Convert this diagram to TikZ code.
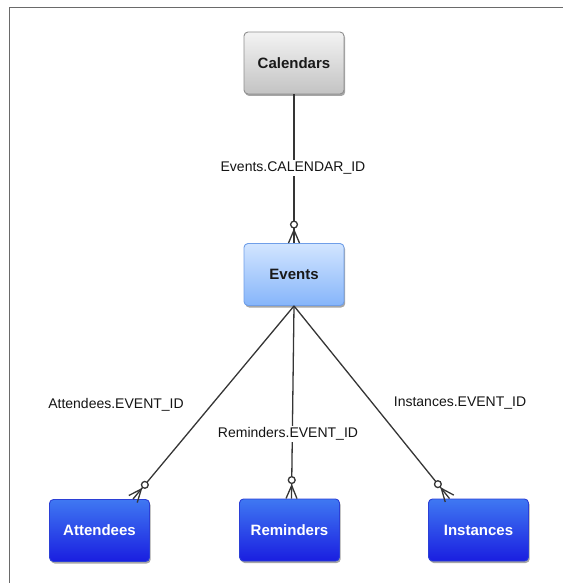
\documentclass[tikz,border=0pt]{standalone}
\usepackage{fontspec}
\setmainfont{Liberation Sans}
\usetikzlibrary{calc,shadows}

\definecolor{edgegray}{HTML}{353535}
\definecolor{framegray}{HTML}{6A6A6A}
\definecolor{grayTop}{HTML}{F3F3F3}
\definecolor{grayBot}{HTML}{C3C3C3}
\definecolor{grayLine}{HTML}{8E8E8E}
\definecolor{lightTop}{HTML}{D2E5FF}
\definecolor{lightBot}{HTML}{86B5FA}
\definecolor{lightLine}{HTML}{6F9EE8}
\definecolor{deepTop}{HTML}{3F78F2}
\definecolor{deepBot}{HTML}{1A1EE0}
\definecolor{deepLine}{HTML}{2B3FD6}

\tikzset{
  entity/.style={rectangle, rounded corners=4bp, minimum width=100bp,
    minimum height=62bp, inner sep=0pt, line width=0.9bp,
    font=\fontsize{15bp}{17bp}\selectfont\bfseries,
    drop shadow={shadow xshift=1.2bp, shadow yshift=-2bp, opacity=0.35, fill=black}},
  tablegray/.style={entity, draw=grayLine, top color=grayTop, bottom color=grayBot, text=black!90},
  tablelight/.style={entity, draw=lightLine, top color=lightTop, bottom color=lightBot, text=black!90},
  tabledeep/.style={entity, draw=deepLine, top color=deepTop, bottom color=deepBot, text=white},
  relation/.style={draw=edgegray, line width=1.3bp},
  keylabel/.style={font=\fontsize{14bp}{16bp}\selectfont, text=black!92, inner sep=2bp},
  keylabelcut/.style={keylabel, fill=white},
}

% zero-or-many end: open ring, then a crow's foot meeting the box edge
\newcommand\zeromany[2]{%
  \draw[relation] (#1) -- ($(#2)!22bp!(#1)$);
  \draw[relation, fill=white] ($(#2)!18.5bp!(#1)$) circle[radius=3.4bp];
  \draw[relation] ($(#2)!15bp!(#1)$) -- (#2);
  \draw[relation] ($(#2)!13bp!(#1)$) -- ($(#2)!5.5bp!90:(#1)$);
  \draw[relation] ($(#2)!13bp!(#1)$) -- ($(#2)!5.5bp!-90:(#1)$);
}

\begin{document}
\begin{tikzpicture}[x=1bp, y=-1bp]
  \useasboundingbox (0,0) rectangle (563,583);

  % page frame: top and left edges only
  \draw[framegray, line width=1.6bp] (9.5,583) -- (9.5,7.5) -- (563,7.5);

  % tables
  \node[tablegray]  (cal) at (294,63)  {Calendars};
  \node[tablelight] (ev)  at (294,274.5) {Events};
  \node[tabledeep]  (att) at (99.5,530.5) {Attendees};
  \node[tabledeep]  (rem) at (289.5,530) {Reminders};
  \node[tabledeep]  (ins) at (478.5,530) {Instances};

  % where the relations meet the child tables
  \coordinate (att-in) at ([xshift=33.5bp]att.north);
  \coordinate (rem-in) at ([xshift=2bp]rem.north);
  \coordinate (ins-in) at ([xshift=-29bp]ins.north);

  % relations
  \zeromany{cal.south}{ev.north}
  \zeromany{ev.south}{att-in}
  \zeromany{ev.south}{rem-in}
  \zeromany{ev.south}{ins-in}

  % foreign-key labels
  \node[keylabelcut] (l-cal) at (293,168) {Events.CALENDAR\_ID};
  \node[keylabel]    (l-att) at (116,405) {Attendees.EVENT\_ID};
  \node[keylabelcut] (l-rem) at (288,434) {Reminders.EVENT\_ID};
  \node[keylabel]    (l-ins) at (460,403) {Instances.EVENT\_ID};
\end{tikzpicture}
\end{document}
